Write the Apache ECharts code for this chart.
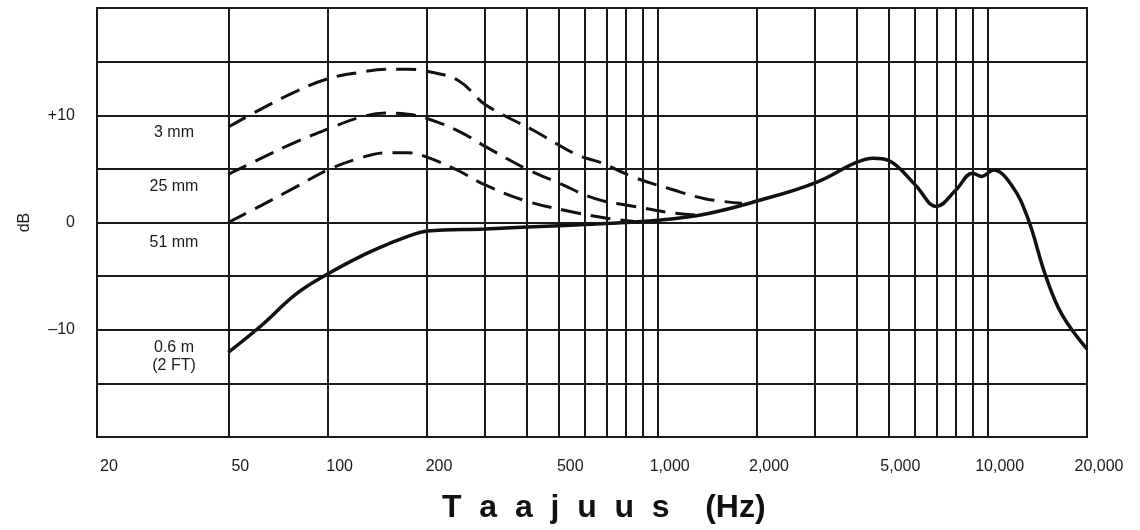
<!DOCTYPE html>
<html lang="et">
<head>
  <meta charset="UTF-8">
  <title>Taajuusvaste</title>
  <script src="https://cdn.jsdelivr.net/npm/echarts@6/dist/echarts.min.js"></script>
  <style>
    body { margin: 0; padding: 0; background: #fff; }
    #chart { width: 1140px; height: 530px; }
  </style>
</head>
<body>
  <div id="chart"></div>
  <script>
    // taajuudet (Hz) ja vasteet (dB), luettu kuvasta
    var solidFreq = [50, 63, 80, 100, 125, 150, 175, 200, 300, 500, 700, 1000, 1400, 2000, 3000, 4000, 4500, 5000, 6000, 7000, 8000, 9000, 9600, 10400, 11800, 13200, 15000, 16800, 20000];
    var solidDb = [-12.1, -9.6, -6.7, -4.8, -3.2, -2.1, -1.3, -0.8, -0.6, -0.3, -0.1, 0.2, 0.8, 2.0, 3.7, 5.6, 6.0, 5.8, 3.6, 1.5, 3.0, 4.6, 4.3, 4.9, 3.5, 0.5, -5.0, -8.6, -11.8];

    var mm3Freq = [50, 63, 80, 100, 125, 150, 175, 200, 250, 300, 420, 570, 670, 850, 1100, 1400, 1800];
    var mm3Db = [8.9, 10.6, 12.2, 13.4, 14.0, 14.3, 14.3, 14.1, 13.2, 11.0, 8.6, 6.3, 5.6, 4.2, 3.1, 2.2, 1.8];

    var mm25Freq = [50, 63, 80, 100, 125, 150, 175, 200, 250, 300, 400, 500, 650, 850, 1100, 1300];
    var mm25Db = [4.5, 6.0, 7.5, 8.7, 9.8, 10.2, 10.1, 9.7, 8.5, 7.1, 5.0, 3.7, 2.2, 1.5, 0.9, 0.7];

    var mm51Freq = [50, 63, 80, 100, 125, 150, 175, 200, 250, 300, 400, 530, 700, 850];
    var mm51Db = [0.0, 1.6, 3.3, 4.9, 6.0, 6.5, 6.5, 6.1, 4.8, 3.5, 2.0, 1.1, 0.4, 0.1];

    var xLabelValues = [20, 50, 100, 200, 500, 1000, 2000, 5000, 10000, 20000];
    var xGridValues = [50, 100, 200, 300, 400, 500, 600, 700, 800, 900, 1000, 2000, 3000, 4000, 5000, 6000, 7000, 8000, 9000, 10000];
    var yLabels = { '10': '+10', '0': '0', '-10': '\u201310' };

    var curveNames = ['3 mm', '25 mm', '51 mm', '0.6 m\n(2 FT)'];

    function pairs(xs, ys) {
      return xs.map(function (x, i) { return [x, ys[i]]; });
    }

    var chart = echarts.init(document.getElementById('chart'));

    var dashed = { color: '#111', width: 3, type: [20, 10] };
    var font = 'Liberation Sans, Arial, sans-serif';

    var option = {
      backgroundColor: '#fff',
      animation: false,
      grid: {
        left: 97, right: 53, top: 8, bottom: 93,
        show: true, borderColor: '#1a1a1a', borderWidth: 2
      },
      xAxis: {
        type: 'log',
        logBase: 10,
        min: 20,
        max: 20000,
        axisLine: { show: false },
        axisTick: { show: false },
        splitLine: { show: false },
        axisLabel: {
          customValues: xLabelValues,
          margin: 22,
          fontSize: 16,
          color: '#1a1a1a',
          fontFamily: font,
          padding: [0, 0, 0, 24],
          formatter: function (v) {
            return Math.round(v).toString().replace(/\B(?=(\d{3})+(?!\d))/g, ',');
          }
        }
      },
      yAxis: {
        type: 'value',
        min: -20,
        max: 20,
        interval: 5,
        name: 'dB',
        nameLocation: 'middle',
        nameRotate: 90,
        nameGap: 64,
        nameTextStyle: { fontSize: 16, color: '#1a1a1a', fontFamily: font },
        axisLine: { show: false },
        axisTick: { show: false },
        splitLine: { show: true, lineStyle: { color: '#1a1a1a', width: 2 } },
        axisLabel: {
          margin: 22,
          fontSize: 16,
          color: '#1a1a1a',
          fontFamily: font,
          formatter: function (v) { return yLabels[String(v)] || ''; }
        }
      },
      graphic: [
        {
          type: 'text', left: 442, top: 492,
          style: {
            text: 'T  a  a  j  u  u  s    (Hz)',
            font: 'bold 32px ' + font,
            fill: '#111'
          }
        }
      ],
      series: [
        {
          name: 'grid',
          type: 'line',
          data: [],
          silent: true,
          z: 1,
          markLine: {
            silent: true,
            symbol: 'none',
            label: { show: false },
            lineStyle: { color: '#1a1a1a', width: 2, type: 'solid' },
            data: xGridValues.map(function (f) { return { xAxis: f }; })
          }
        },
        {
          name: curveNames[0], type: 'line', data: pairs(mm3Freq, mm3Db),
          smooth: 0.4, showSymbol: false, z: 3, lineStyle: dashed
        },
        {
          name: curveNames[1], type: 'line', data: pairs(mm25Freq, mm25Db),
          smooth: 0.4, showSymbol: false, z: 3, lineStyle: dashed
        },
        {
          name: curveNames[2], type: 'line', data: pairs(mm51Freq, mm51Db),
          smooth: 0.4, showSymbol: false, z: 3, lineStyle: dashed
        },
        {
          name: curveNames[3], type: 'line', data: pairs(solidFreq, solidDb),
          smooth: 0.4, showSymbol: false, z: 4,
          lineStyle: { color: '#111', width: 3.5 }
        }
      ]
    };

    // tekstit käyrien vieressä
    var labelTops = [133, 187, 243, 357];
    curveNames.forEach(function (t, i) {
      option.graphic.push({
        type: 'text', x: 174, y: labelTops[i],
        style: {
          text: t, font: '16px ' + font, fill: '#1a1a1a',
          align: 'center', verticalAlign: 'middle', lineHeight: 18
        }
      });
    });

    chart.setOption(option);
  </script>
</body>
</html>
